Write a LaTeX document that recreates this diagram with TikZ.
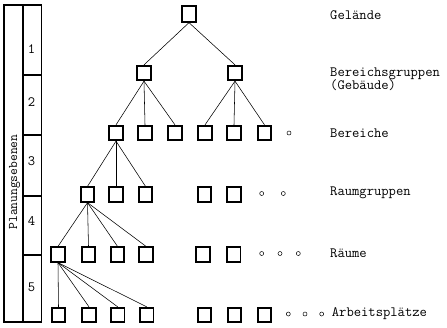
\documentclass[tikz,border=0pt]{standalone}
\usepackage{fontspec}
\begin{document}
\begin{tikzpicture}[x=1pt,y=-1pt,
  bx/.style={draw, line width=1.8pt, minimum width=13.5pt, minimum height=14.5pt, inner sep=0pt},
  lnk/.style={line width=0.55pt},
  lab/.style={anchor=west, inner sep=0pt, font=\ttfamily\fontsize{14.2}{11}\selectfont, align=left},
  num/.style={inner sep=0pt, font=\ttfamily\fontsize{14.2}{11}\selectfont},
  dot/.style={draw, circle, line width=0.5pt, minimum size=4pt, inner sep=0pt},
  frame/.style={line width=1.5pt}]
\useasboundingbox (0,0) rectangle (447,327);
% left scale
\draw[frame] (4,5) rectangle (41.5,322);
\draw[frame] (23,5) -- (23,322);
\foreach \yy in {75,135,196,255} \draw[frame] (23,\yy) -- (41.5,\yy);
\node[num, rotate=90] (plan) at (14.5,182) {\fontsize{13.2}{11}\selectfont Planungsebenen};
\node[num] (n1) at (31.5,49) {1};
\node[num] (n2) at (31.5,102) {2};
\node[num] (n3) at (31.5,161) {3};
\node[num] (n4) at (31.5,221) {4};
\node[num] (n5) at (31.5,287) {5};
% level 1
\node[bx, minimum height=15.5pt] (g) at (189,14) {};
% level 2
\node[bx] (b1) at (144,73) {};
\node[bx] (b2) at (235,73) {};
% level 3
\node[bx] (c1) at (116,133) {};
\node[bx] (c2) at (145,133) {};
\node[bx] (c3) at (175,133) {};
\node[bx] (c4) at (205,133) {};
\node[bx] (c5) at (234,133) {};
\node[bx] (c6) at (264.5,133) {};
% level 4
\node[bx] (d1) at (87.5,194.5) {};
\node[bx] (d2) at (116,194.5) {};
\node[bx] (d3) at (145.5,194.5) {};
\node[bx] (d4) at (204.5,194.5) {};
\node[bx] (d5) at (234,194.5) {};
% level 5
\node[bx] (e1) at (58,254.5) {};
\node[bx] (e2) at (88.5,254.5) {};
\node[bx] (e3) at (117.5,254.5) {};
\node[bx] (e4) at (146,254.5) {};
\node[bx] (e5) at (203,254.5) {};
\node[bx] (e6) at (233.7,254.5) {};
% level 6
\node[bx] (f1) at (58.5,315) {};
\node[bx] (f2) at (89,315) {};
\node[bx] (f3) at (117.7,315) {};
\node[bx] (f4) at (146.7,315) {};
\node[bx] (f5) at (204.5,315) {};
\node[bx] (f6) at (234.5,315) {};
\node[bx] (f7) at (264.5,315) {};
% connectors
\foreach \p/\c in {g/b1,g/b2,b1/c1,b1/c2,b1/c3,b2/c4,b2/c5,b2/c6,c1/d1,c1/d2,c1/d3,d1/e1,d1/e2,d1/e3,d1/e4,e1/f1,e1/f2,e1/f3,e1/f4}
  \draw[lnk] (\p.south) -- (\c.north);
% small circles
\node[dot] (o31) at (289,133) {};
\node[dot] (o41) at (261.7,193.5) {};
\node[dot] (o42) at (283.3,193.5) {};
\node[dot] (o51) at (261.7,253.5) {};
\node[dot] (o52) at (280,253.5) {};
\node[dot] (o53) at (298.3,253.5) {};
\node[dot] (o61) at (288.3,314) {};
\node[dot] (o62) at (305,314) {};
\node[dot] (o63) at (321.7,314) {};
% labels
\node[lab] (l1) at (330,15) {Gelände};
\node[lab] (l2a) at (330,74) {Bereichsgruppen};
\node[lab] (l2b) at (330,85.5) {(Gebäude)};
\node[lab] (l3) at (330,133) {Bereiche};
\node[lab] (l4) at (330,193) {Raumgruppen};
\node[lab] (l5) at (330,253) {Räume};
\node[lab] (l6) at (331.7,314) {Arbeitsplätze};
\end{tikzpicture}
\end{document}
